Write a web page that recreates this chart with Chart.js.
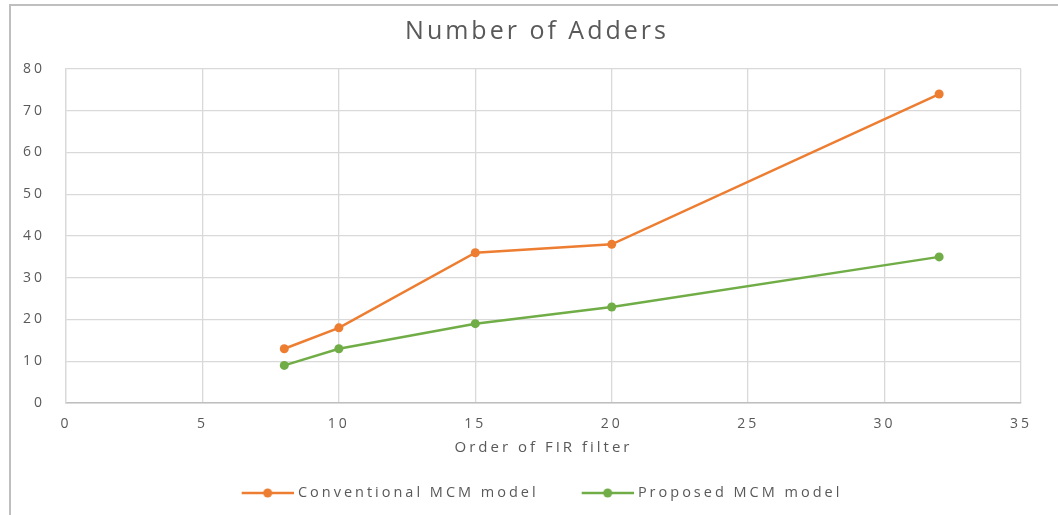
<!DOCTYPE html>
<html>
<head>
<meta charset="utf-8">
<script src="https://cdn.jsdelivr.net/npm/chart.js@4/dist/chart.umd.min.js"></script>
<style>
  html, body { margin: 0; padding: 0; background: #fff; overflow: hidden; }
  .frame {
    position: absolute; left: 9px; top: 4px; width: 1060px; height: 520px;
    border-left: 2px solid #bfbfbf; border-top: 2px solid #bfbfbf;
  }
  .chart-box { position: absolute; left: 11px; top: 6px; width: 1052px; height: 509px; }
</style>
</head>
<body>
<div class="frame"></div>
<div class="chart-box"><canvas id="adders"></canvas></div>
<script>
const filterOrders = [8, 10, 15, 20, 32];
const conventionalAdders = [13, 18, 36, 38, 74];
const proposedAdders = [9, 13, 19, 23, 35];
const xTicks = [0, 5, 10, 15, 20, 25, 30, 35];
const yTicks = [0, 10, 20, 30, 40, 50, 60, 70, 80];

const textColor = '#595959';
const orange = '#ed7d31';
const green = '#70ad47';

// legend marker: line with a dot in the middle, like excel.
// blank strip on the left = gap between items, and the image is 6px wider
// than the legend box so the line sits closer to its text
function legendMarker(color) {
  const c = document.createElement('canvas');
  c.width = 65;
  c.height = 12;
  const g = c.getContext('2d');
  g.strokeStyle = color;
  g.lineWidth = 2.5;
  g.beginPath();
  g.moveTo(13, 6);
  g.lineTo(65, 6);
  g.stroke();
  g.fillStyle = color;
  g.beginPath();
  g.arc(39, 6, 4.5, 0, Math.PI * 2);
  g.fill();
  return c;
}

// the reference text is wide, so space the letters out a bit
const wideText = {
  id: 'wideText',
  beforeUpdate(chart) { chart.ctx.letterSpacing = '3px'; },
  beforeDraw(chart) { chart.ctx.letterSpacing = '3px'; }
};

const ctx = document.getElementById('adders').getContext('2d');
const addersChart = new Chart(ctx, {
  type: 'scatter',
  data: {
    datasets: [{
      label: 'Conventional MCM model',
      data: filterOrders.map((x, i) => ({x: x, y: conventionalAdders[i]})),
      showLine: true,
      borderColor: orange,
      backgroundColor: orange,
      borderWidth: 2.5,
      pointRadius: 4.5,
      pointBorderWidth: 0
    }, {
      label: 'Proposed MCM model',
      data: filterOrders.map((x, i) => ({x: x, y: proposedAdders[i]})),
      showLine: true,
      borderColor: green,
      backgroundColor: green,
      borderWidth: 2.5,
      pointRadius: 4.5,
      pointBorderWidth: 0
    }]
  },
  options: {
    responsive: true,
    maintainAspectRatio: false,
    animation: false,
    layout: {
      padding: {left: 0, right: 0, top: 0, bottom: 4.75}
    },
    scales: {
      x: {
        type: 'linear',
        min: 0,
        max: 35,
        afterBuildTicks: (scale) => { scale.ticks = xTicks.map(v => ({value: v})); },
        afterFit: (scale) => { scale.height = 49.75; },
        grid: { color: '#d9d9d9', lineWidth: 1.3, drawTicks: false },
        border: { color: '#bfbfbf', width: 1.5 },
        ticks: { color: textColor, padding: 13, font: {family: 'Open Sans', size: 14} },
        title: {
          display: true,
          text: 'Order of FIR filter',
          color: textColor,
          padding: {top: 0, bottom: -3.5},
          font: {family: 'Open Sans', size: 15}
        }
      },
      y: {
        min: 0,
        max: 80,
        afterBuildTicks: (scale) => { scale.ticks = yTicks.map(v => ({value: v})); },
        afterFit: (scale) => { scale.width = 55; },
        grid: { color: '#d9d9d9', lineWidth: 1.3, drawTicks: false },
        border: { color: '#d9d9d9', width: 1.3 },
        ticks: { color: textColor, padding: 21, font: {family: 'Open Sans', size: 14} }
      },
      // empty right-hand axis, only keeps the white margin right of the plot
      // so the title and legend stay centred on the whole frame
      spacer: {
        position: 'right',
        afterFit: (scale) => { scale.width = 42; },
        grid: { display: false },
        border: { display: false },
        ticks: { display: false }
      }
    },
    plugins: {
      title: {
        display: true,
        text: 'Number of Adders',
        color: textColor,
        padding: {top: 11, bottom: 22},
        font: {family: 'Open Sans', size: 25, weight: 'normal'}
      },
      legend: {
        position: 'bottom',
        labels: {
          color: textColor,
          usePointStyle: true,
          pointStyleWidth: 59,
          padding: 33,
          font: {family: 'Open Sans', size: 14.5},
          generateLabels: (chart) => chart.data.datasets.map((ds, i) => ({
            text: ds.label,
            fontColor: textColor,
            pointStyle: legendMarker(ds.borderColor),
            datasetIndex: i,
            hidden: false,
            lineWidth: 0
          }))
        }
      },
      tooltip: { enabled: false }
    }
  },
  plugins: [wideText]
});
</script>
</body>
</html>
